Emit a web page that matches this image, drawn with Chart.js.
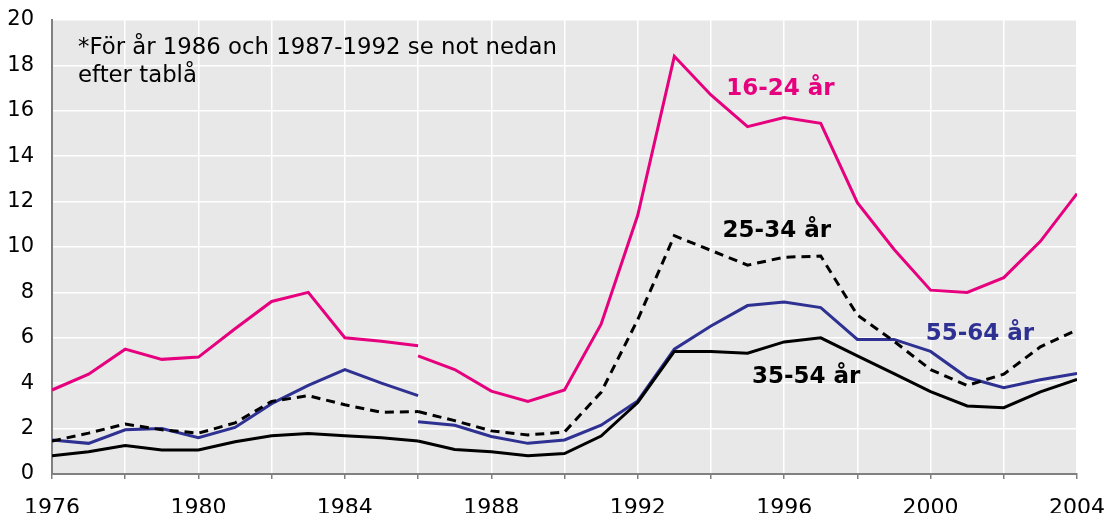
<!DOCTYPE html>
<html>
<head>
<meta charset="utf-8">
<script src="https://cdn.jsdelivr.net/npm/chart.js@4.4.1/dist/chart.umd.min.js"></script>
<style>
  html, body { margin: 0; padding: 0; background: #fff; }
  #wrap { width: 1105px; height: 513px; position: relative; }
</style>
</head>
<body>
<div id="wrap"><canvas id="chart"></canvas></div>
<script>
// Years for the two series segments (break at 1986)
const yearsOld = [1976, 1977, 1978, 1979, 1980, 1981, 1982, 1983, 1984, 1985, 1986];
const yearsNew = [1986, 1987, 1988, 1989, 1990, 1991, 1992, 1993, 1994, 1995, 1996,
                  1997, 1998, 1999, 2000, 2001, 2002, 2003, 2004];

// 16-24 år
const age16Old = [3.7, 4.4, 5.5, 5.05, 5.15, 6.4, 7.6, 8.0, 6.0, 5.85, 5.65];
const age16New = [5.2, 4.6, 3.65, 3.2, 3.7, 6.6, 11.4, 18.4, 16.7, 15.3, 15.7,
                  15.45, 11.95, 9.9, 8.1, 8.0, 8.65, 10.25, 12.35];

// 25-34 år
const age25Old = [1.45, 1.8, 2.2, 1.95, 1.8, 2.25, 3.2, 3.45, 3.05, 2.72, 2.75];
const age25New = [2.75, 2.35, 1.9, 1.72, 1.85, 3.6, 6.8, 10.5, 9.85, 9.2, 9.55,
                  9.6, 7.0, 5.85, 4.6, 3.9, 4.4, 5.6, 6.35];

// 35-54 år
const age35Old = [0.8, 0.98, 1.25, 1.06, 1.06, 1.42, 1.68, 1.78, 1.68, 1.6, 1.45];
const age35New = [1.45, 1.08, 0.98, 0.8, 0.9, 1.67, 3.15, 5.4, 5.4, 5.32, 5.82,
                  6.0, 5.2, 4.42, 3.63, 3.0, 2.92, 3.62, 4.17];

// 55-64 år
const age55Old = [1.5, 1.35, 1.95, 2.0, 1.6, 2.05, 3.1, 3.9, 4.6, 4.0, 3.45];
const age55New = [2.3, 2.15, 1.65, 1.35, 1.5, 2.15, 3.22, 5.5, 6.52, 7.42, 7.58,
                  7.33, 5.93, 5.93, 5.4, 4.25, 3.8, 4.15, 4.43];

// Tick labels and annotations
const xTickLabels = [1976, 1980, 1984, 1988, 1992, 1996, 2000, 2004];
const yTicks = [0, 2, 4, 6, 8, 10, 12, 14, 16, 18, 20];
const noteLines = ['*För år 1986 och 1987-1992 se not nedan', 'efter tablå'];
const seriesLabels = [
  { text: '16-24 år', x: 1995.9, y: 16.95, color: '#e6007e' },
  { text: '25-34 år', x: 1995.8, y: 10.7, color: '#000000' },
  { text: '55-64 år', x: 2001.35, y: 6.15, color: '#2e3192' },
  { text: '35-54 år', x: 1996.6, y: 4.25, color: '#000000' }
];

const PINK = '#e6007e';
const BLUE = '#2e3192';
const FONT = "'DejaVu Sans', Verdana, sans-serif";

function points(xs, ys) {
  return xs.map((x, i) => ({ x: x, y: ys[i] }));
}

function lineSet(label, xs, ys, color, dash) {
  return {
    label: label,
    data: points(xs, ys),
    borderColor: color,
    borderWidth: 3,
    borderDash: dash || [],
    pointRadius: 0,
    tension: 0,
    fill: false
  };
}

// keep the plot box fixed, labels may spill into the margins
function noPad(scale) {
  scale.paddingLeft = 0;
  scale.paddingRight = 0;
  scale.paddingTop = 0;
  scale.paddingBottom = 0;
}

// Gray plot background
const plotBackground = {
  id: 'plotBackground',
  beforeDraw(chart) {
    const { ctx, chartArea } = chart;
    ctx.save();
    ctx.fillStyle = '#e8e8e8';
    ctx.fillRect(chartArea.left, chartArea.top, chartArea.right - chartArea.left, chartArea.bottom - chartArea.top);
    ctx.restore();
  }
};

// Note text and series labels
const textLabels = {
  id: 'textLabels',
  afterDatasetsDraw(chart) {
    const { ctx, scales } = chart;
    ctx.save();
    ctx.textBaseline = 'middle';
    ctx.textAlign = 'left';
    ctx.fillStyle = '#000';
    ctx.font = '22.8px ' + FONT;
    noteLines.forEach((line, i) => {
      ctx.fillText(line, 78, 48 + i * 28);
    });
    ctx.textAlign = 'center';
    ctx.font = 'bold 23px ' + FONT;
    seriesLabels.forEach(l => {
      ctx.fillStyle = l.color;
      ctx.fillText(l.text, scales.x.getPixelForValue(l.x), scales.y.getPixelForValue(l.y));
    });
    ctx.restore();
  }
};

new Chart(document.getElementById('chart'), {
  type: 'line',
  data: {
    datasets: [
      lineSet('16-24 år', yearsOld, age16Old, PINK),
      lineSet('16-24 år*', yearsNew, age16New, PINK),
      lineSet('25-34 år', yearsOld, age25Old, '#000', [9, 6]),
      lineSet('25-34 år*', yearsNew, age25New, '#000', [9, 6]),
      lineSet('35-54 år', yearsOld, age35Old, '#000'),
      lineSet('35-54 år*', yearsNew, age35New, '#000'),
      lineSet('55-64 år', yearsOld, age55Old, BLUE),
      lineSet('55-64 år*', yearsNew, age55New, BLUE)
    ]
  },
  options: {
    responsive: true,
    maintainAspectRatio: false,
    animation: false,
    layout: { padding: { top: 20, right: 28, left: 0, bottom: 0 } },
    plugins: {
      legend: { display: false },
      tooltip: { enabled: false }
    },
    scales: {
      x: {
        type: 'linear',
        min: 1976,
        max: 2004,
        afterFit(scale) { scale.height = 39; noPad(scale); },
        ticks: {
          stepSize: 2,
          autoSkip: false,
          maxRotation: 0,
          color: '#000',
          font: { family: FONT, size: 22 },
          padding: 16,
          callback: v => xTickLabels.includes(v) ? String(v) : ''
        },
        grid: { color: '#ffffff', lineWidth: 1.5, tickColor: '#808080', tickLength: 5 },
        border: { color: '#808080', width: 2 }
      },
      y: {
        min: 0,
        max: 20,
        afterFit(scale) { scale.width = 52; noPad(scale); },
        afterBuildTicks(scale) { scale.ticks = yTicks.map(v => ({ value: v })); },
        ticks: {
          color: '#000',
          font: { family: FONT, size: 21 },
          padding: 18
        },
        grid: { color: '#ffffff', lineWidth: 1.5, drawTicks: false },
        border: { color: '#808080', width: 2 }
      }
    }
  },
  plugins: [plotBackground, textLabels]
});
</script>
</body>
</html>
